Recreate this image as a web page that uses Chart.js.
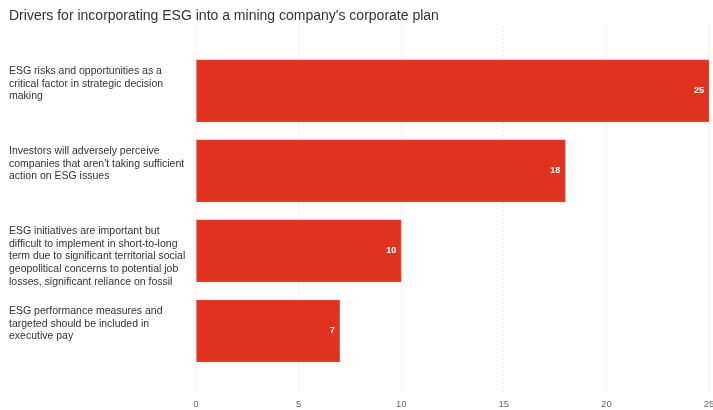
<!DOCTYPE html>
<html>
<head>
<meta charset="utf-8">
<script src="https://cdn.jsdelivr.net/npm/chart.js@4/dist/chart.umd.min.js"></script>
<style>
  html, body { margin: 0; padding: 0; background: #fff; }
  #wrap { width: 713px; height: 410px; }
</style>
</head>
<body>
<div id="wrap"><canvas id="myChart"></canvas></div>
<script>
const chartTitle = "Drivers for incorporating ESG into a mining company's corporate plan";
const categories = [
    ["ESG risks and opportunities as a", "critical factor in strategic decision", "making"],
    ["Investors will adversely perceive", "companies that aren't taking sufficient", "action on ESG issues"],
    ["ESG initiatives are important but", "difficult to implement in short-to-long", "term due to significant territorial social", "geopolitical concerns to potential job", "losses, significant reliance on fossil"],
    ["ESG performance measures and", "targeted should be included in", "executive pay"]
];
const values = [25, 18, 10, 7];
const xTicks = [0, 5, 10, 15, 20, 25];

const barColor = '#e1321f';

// white number at the end of each bar
const valueLabels = {
    id: 'valueLabels',
    afterDatasetsDraw(chart) {
        const ctx = chart.ctx;
        const meta = chart.getDatasetMeta(0);
        ctx.save();
        ctx.fillStyle = '#ffffff';
        ctx.font = 'bold 9px "Liberation Sans", Arial, sans-serif';
        ctx.textAlign = 'right';
        ctx.textBaseline = 'middle';
        meta.data.forEach((bar, i) => {
            ctx.fillText(String(values[i]), bar.x - 5, bar.y);
        });
        ctx.restore();
    }
};

const ctx = document.getElementById('myChart').getContext('2d');
const chart = new Chart(ctx, {
    type: 'bar',
    data: {
        datasets: [{
            data: values.map((v, i) => ({ x: v, y: i })),
            backgroundColor: barColor,
            borderColor: '#e5493a',
            borderWidth: 1,
            borderSkipped: false,
            barThickness: 62
        }]
    },
    options: {
        indexAxis: 'y',
        responsive: true,
        maintainAspectRatio: false,
        animation: false,
        layout: { padding: { left: 9, right: 4, top: 8, bottom: 0 } },
        plugins: {
            legend: { display: false },
            tooltip: { enabled: false },
            title: {
                display: true,
                text: chartTitle,
                align: 'start',
                color: '#333',
                font: { family: '"Liberation Sans", Arial, sans-serif', size: 14, weight: 'normal' },
                padding: { top: 0, bottom: 2 }
            }
        },
        scales: {
            x: {
                type: 'linear',
                position: 'bottom',
                min: 0,
                max: 25,
                afterBuildTicks: (scale) => { scale.ticks = xTicks.map(v => ({ value: v })); },
                afterFit: (scale) => { scale.paddingRight = 0; scale.paddingLeft = 0; scale.height = 15; },
                grid: {
                    color: '#d9d9d9',
                    lineWidth: 1,
                    drawTicks: false
                },
                border: { display: false, dash: [1, 3] },
                ticks: {
                    color: '#666',
                    padding: 4,
                    font: { family: '"Liberation Sans", Arial, sans-serif', size: 9.5 }
                }
            },
            y: {
                type: 'linear',
                reverse: true,
                offset: false,
                bounds: 'data',
                min: -0.8,
                max: 3.8,
                afterBuildTicks: (scale) => { scale.ticks = categories.map((c, i) => ({ value: i })); },
                afterFit: (scale) => { scale.width = 187; scale.paddingTop = 0; scale.paddingBottom = 0; },
                grid: { display: false, offset: false },
                border: { display: false },
                ticks: {
                    crossAlign: 'far',
                    color: '#333',
                    labelOffset: 5.5,
                    font: { family: '"Liberation Sans", Arial, sans-serif', size: 10.5, lineHeight: 1.2 },
                    callback: (value) => {
                        const lines = categories[value] ? categories[value].slice() : [];
                        while (lines.length < 5) lines.push('');
                        return lines;
                    }
                }
            }
        }
    },
    plugins: [valueLabels]
});
</script>
</body>
</html>
